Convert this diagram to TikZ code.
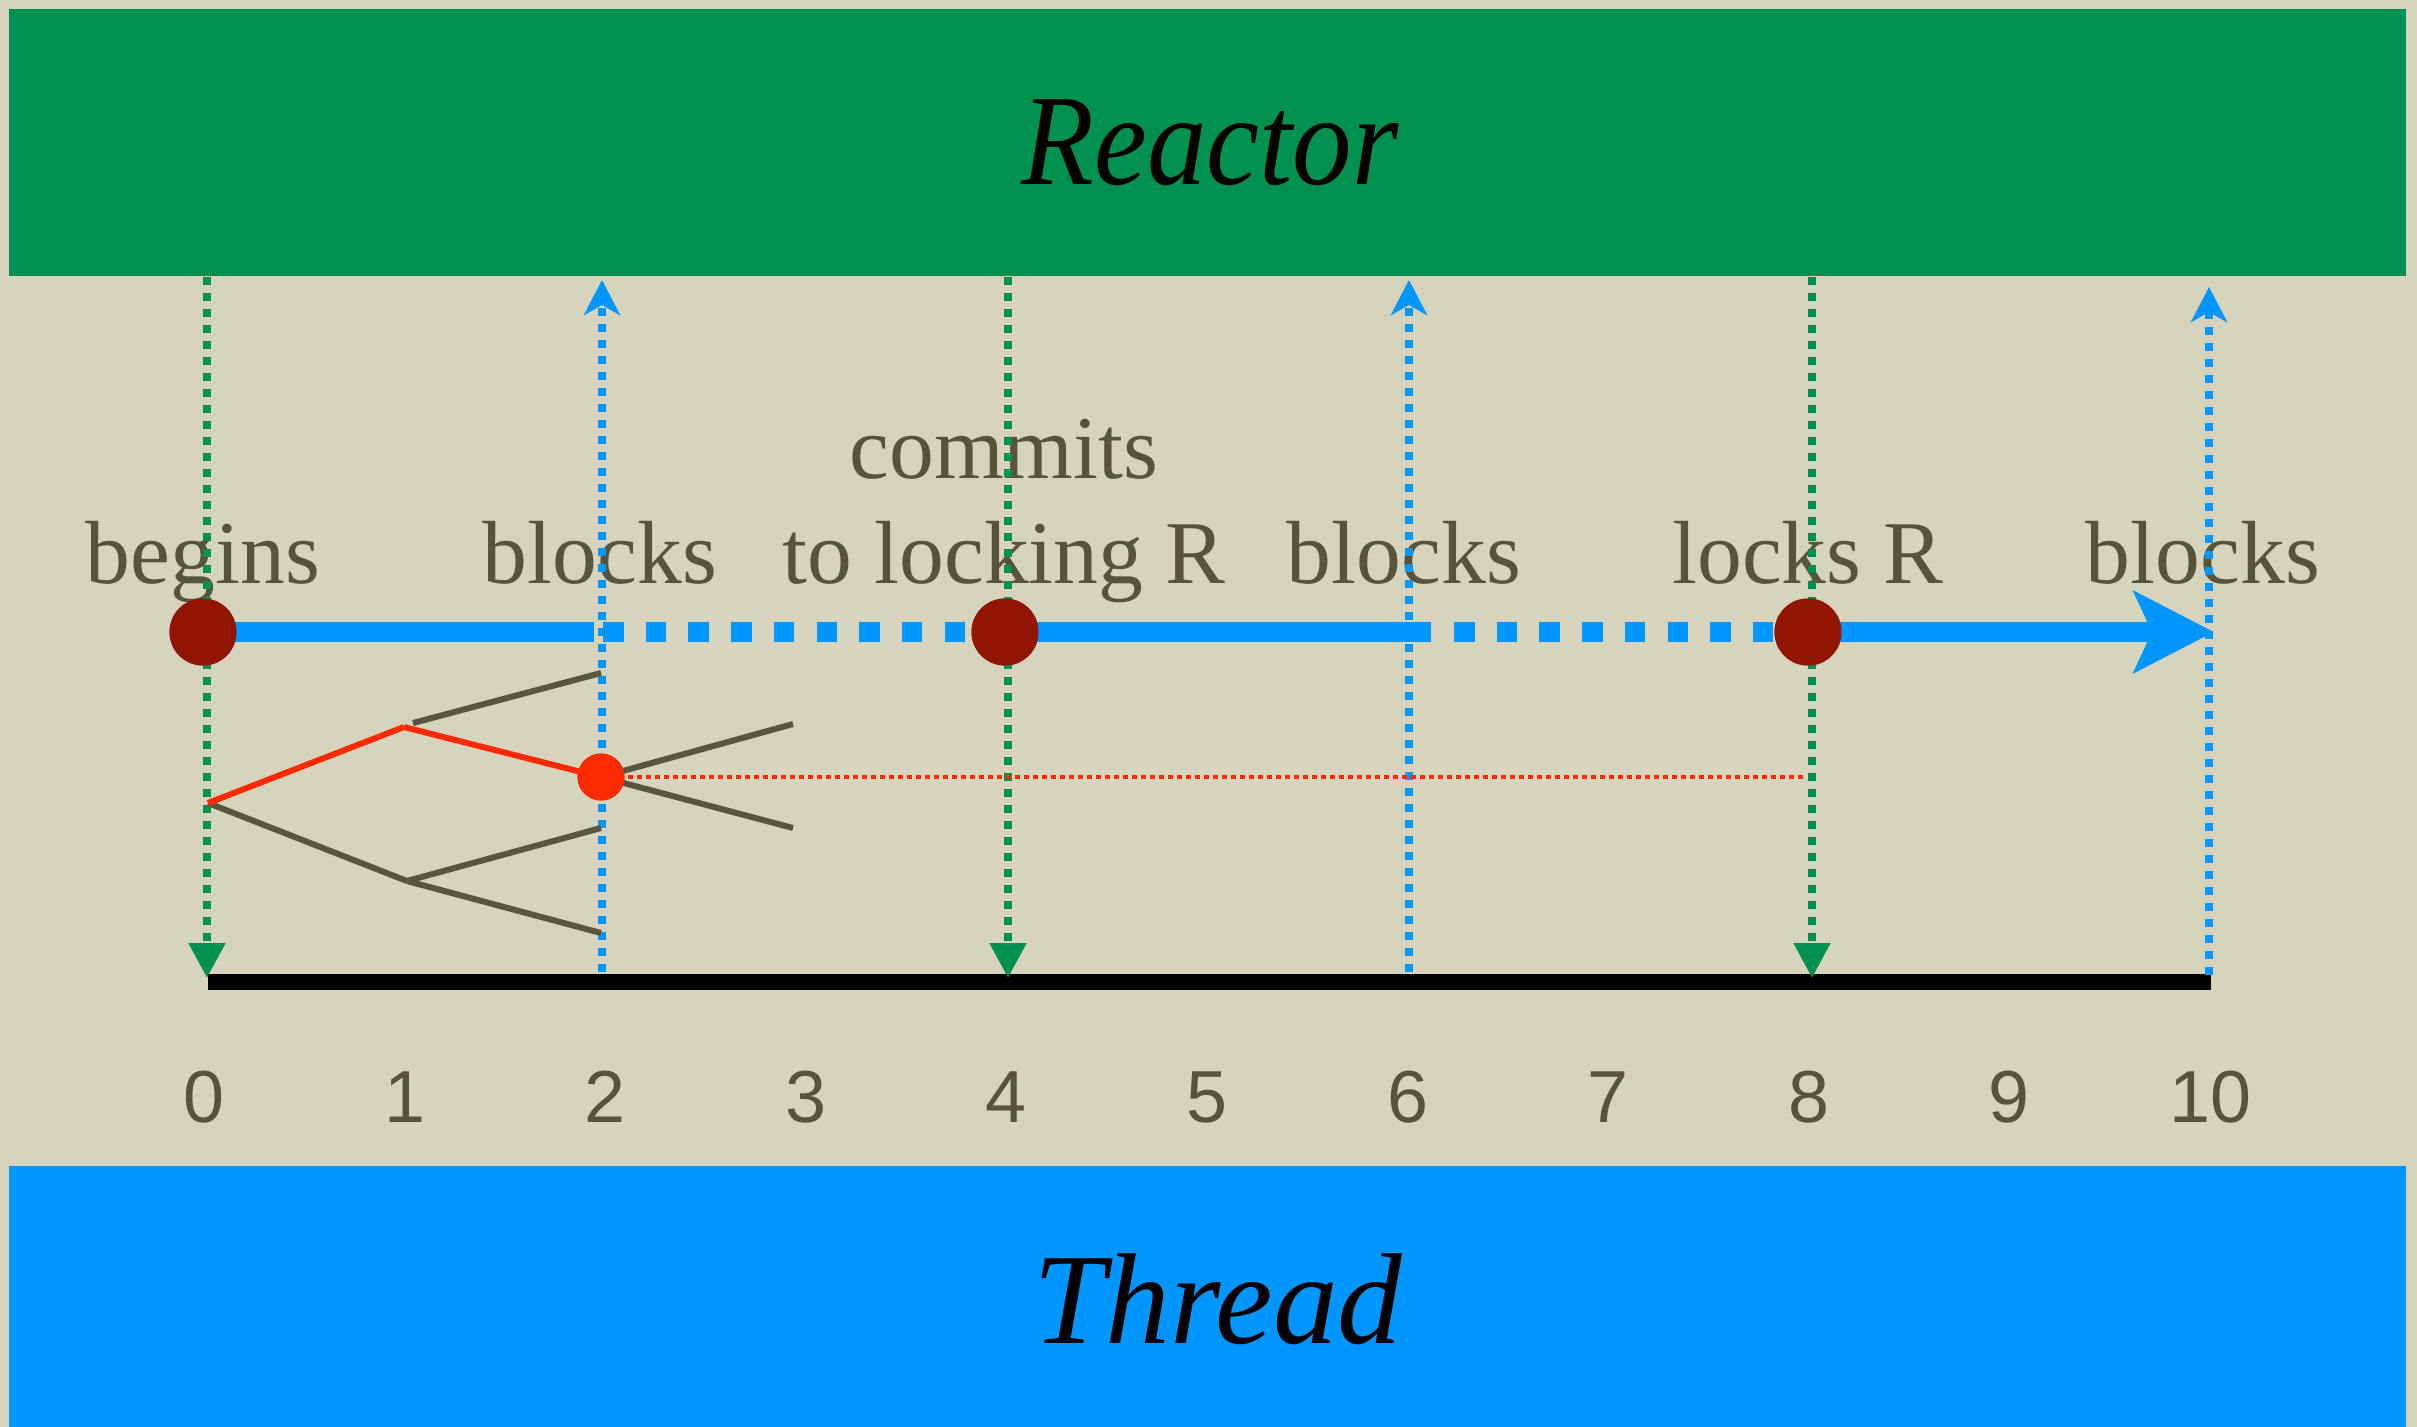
\documentclass[tikz,border=0pt]{standalone}
\usepackage{fontspec}
\setmainfont{Liberation Serif}
\newfontfamily\numfont{Liberation Sans}
\usetikzlibrary{arrows.meta}
\definecolor{bgcol}{RGB}{214,212,188}
\definecolor{rgreen}{RGB}{0,144,79}
\definecolor{tblue}{RGB}{0,150,255}
\definecolor{dred}{RGB}{146,21,0}
\definecolor{bred}{RGB}{255,42,0}
\definecolor{olive}{RGB}{88,84,58}
\definecolor{treecol}{RGB}{88,86,62}
\tikzset{
  titletext/.style={font=\fontsize{130}{130}\selectfont\itshape, text=black, inner sep=0pt, anchor=base},
  lab/.style={font=\fontsize{90}{90}\selectfont, text=olive, inner sep=0pt, anchor=base},
  num/.style={font=\numfont\fontsize{74}{74}\selectfont, text=olive, inner sep=0pt, anchor=base},
  bigdot/.style={circle, fill=dred, minimum size=67bp, inner sep=0pt},
  reddot/.style={circle, fill=bred, minimum size=47bp, inner sep=0pt},
  gline/.style={draw=rgreen, line width=8bp, dash pattern=on 8bp off 8bp, -{Triangle[length=35bp,width=35bp]}},
  bline/.style={draw=tblue, line width=8bp, dash pattern=on 8bp off 8bp, -{Stealth[length=35bp,width=36bp,inset=10bp]}},
  mainsolid/.style={draw=tblue, line width=20bp},
  maindash/.style={draw=tblue, line width=20bp, dash pattern=on 20.5bp off 22.2bp},
  treeline/.style={draw=treecol, line width=6bp},
  redline/.style={draw=bred, line width=6bp},
  reddotted/.style={draw=bred, line width=4bp, dash pattern=on 5bp off 4bp},
  axisline/.style={draw=black, line width=16bp}
}
\begin{document}
\begin{tikzpicture}[x=1bp,y=-1bp]
\useasboundingbox (0,0) rectangle (2417,1427);
\fill[bgcol] (0,0) rectangle (2417,1427);
% bars
\fill[rgreen] (9,9) rectangle (2406,276);
\fill[tblue] (9,1166) rectangle (2406,1427);
\node[titletext, xscale=0.92] (reactor) at (1210,185) {Reactor};
\node[titletext] (thread) at (1218,1343) {Thread};
% labels
\node[lab] (lbegins) at (203,583) {begins};
\node[lab] (lblocksA) at (600,583) {blocks};
\node[lab] (lcommits) at (1004,478) {commits};
\node[lab] (llocking) at (1004,583) {to locking R};
\node[lab] (lblocksB) at (1404,583) {blocks};
\node[lab] (llocks) at (1808,583) {locks R};
\node[lab] (lblocksC) at (2203,583) {blocks};
% tick numbers
\foreach \i in {0,...,10} {
  \node[num] (n\i) at ({204+200.6*\i},1122) {\i};
}
% axis
\coordinate (axL) at (208,982);
\coordinate (axR) at (2211,982);
\draw[axisline] (axL) -- (axR);
% main blue timeline points
\coordinate (s2) at (594,632);
\coordinate (d2) at (603,632);
\coordinate (s6) at (1431,632);
\coordinate (d6) at (1454,632);
\coordinate (m10) at (2214,632);
% tree points
\coordinate (root) at (208,803);
\coordinate (ta) at (404,727);
\coordinate (tas) at (413,723);
\coordinate (tb) at (407,881);
\coordinate (ta1) at (601,673);
\coordinate (tb1) at (601,828);
\coordinate (tb2) at (601,933);
\coordinate (tr1) at (793,724);
\coordinate (tr2) at (793,828);
\coordinate (r8) at (1805,777);
% vertical connector ends
\coordinate (g0t) at (207,277);  \coordinate (g0b) at (207,978);
\coordinate (g4t) at (1008,277); \coordinate (g4b) at (1008,978);
\coordinate (g8t) at (1812,277); \coordinate (g8b) at (1812,978);
\coordinate (b2t) at (602,280);  \coordinate (b2b) at (602,972);
\coordinate (b6t) at (1409,280); \coordinate (b6b) at (1409,972);
\coordinate (b10t) at (2209,287); \coordinate (b10b) at (2209,975);
% circles (nodes)
\node[bigdot] (c0) at (203,632) {};
\node[bigdot] (c4) at (1005,632) {};
\node[bigdot] (c8) at (1808,632) {};
\node[reddot] (rd) at (601,777) {};
% connectors
\draw[mainsolid] (c0.center) -- (s2);
\draw[maindash] (d2) -- (c4.center);
\draw[mainsolid] (c4.center) -- (s6);
\draw[maindash] (d6) -- (c8.center);
\draw[draw=tblue, line width=20bp, -{Stealth[length=80bp,width=81bp,inset=18bp]}] (c8.center) -- (m10);
\draw[gline] (g0t) -- (g0b);
\draw[gline] (g4t) -- (g4b);
\draw[gline] (g8t) -- (g8b);
\draw[bline] (b2b) -- (b2t);
\draw[bline] (b6b) -- (b6t);
\draw[bline] (b10b) -- (b10t);
\draw[treeline] (root) -- (tb);
\draw[treeline] (tas) -- (ta1);
\draw[treeline] (tb) -- (tb1);
\draw[treeline] (tb) -- (tb2);
\draw[treeline] (rd.center) -- (tr1);
\draw[treeline] (rd.center) -- (tr2);
\draw[redline] (root) -- (ta);
\draw[redline] (ta) -- (rd.center);
\draw[reddotted] (rd.center) -- (r8);
% circles on top
\fill[dred] (c0) circle[radius=33.5bp];
\fill[dred] (c4) circle[radius=33.5bp];
\fill[dred] (c8) circle[radius=33.5bp];
\fill[bred] (rd) circle[radius=23.5bp];
\end{tikzpicture}
\end{document}
